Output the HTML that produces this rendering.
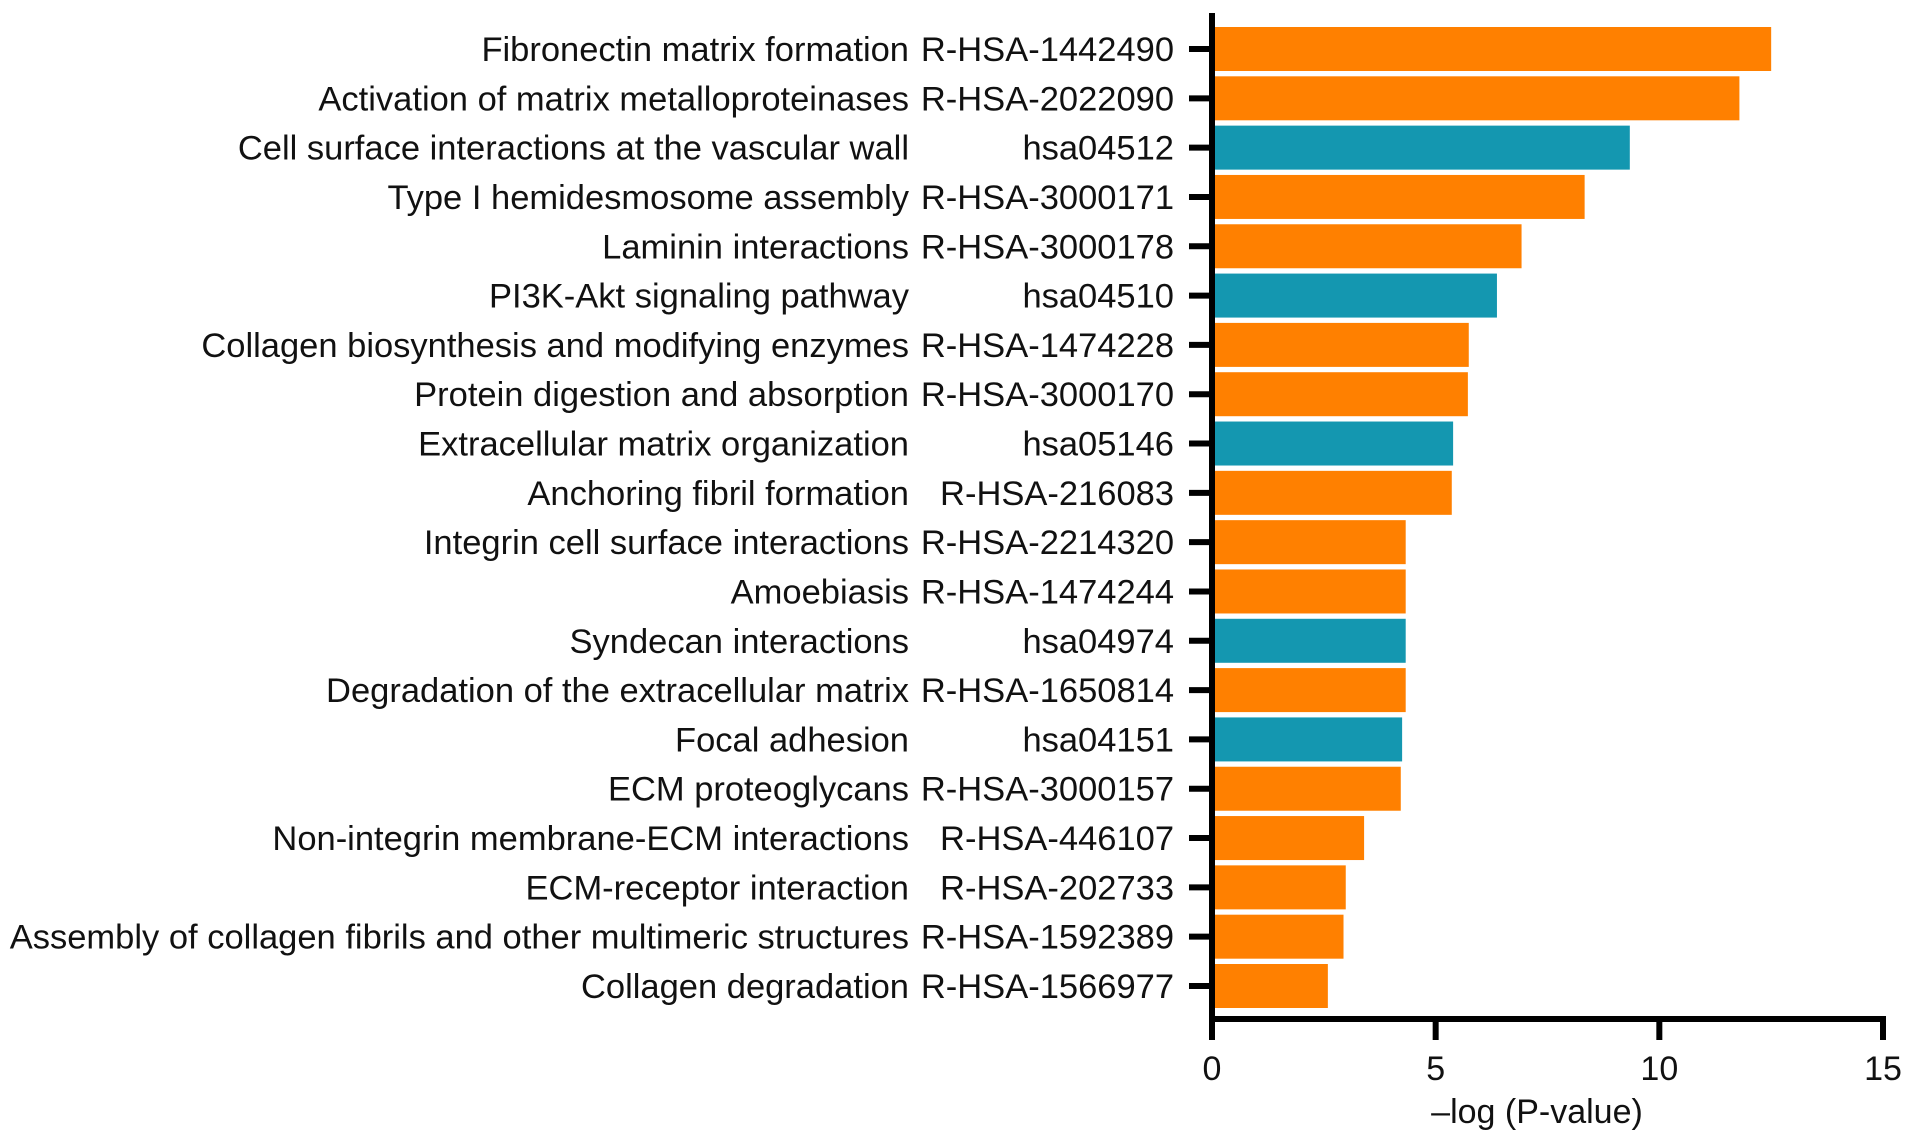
<!DOCTYPE html>
<html><head><meta charset="utf-8"><style>
html,body{margin:0;padding:0;background:#fff;}
svg text{font-family:"Liberation Sans",Arial,sans-serif;fill:#111;}
</style></head><body>
<svg id="chart" width="1913" height="1141" viewBox="0 0 1913 1141" xmlns="http://www.w3.org/2000/svg"></svg>
<script>
const names=["Fibronectin matrix formation","Activation of matrix metalloproteinases","Cell surface interactions at the vascular wall","Type I hemidesmosome assembly","Laminin interactions","PI3K-Akt signaling pathway","Collagen biosynthesis and modifying enzymes","Protein digestion and absorption","Extracellular matrix organization","Anchoring fibril formation","Integrin cell surface interactions","Amoebiasis","Syndecan interactions","Degradation of the extracellular matrix","Focal adhesion","ECM proteoglycans","Non-integrin membrane-ECM interactions","ECM-receptor interaction","Assembly of collagen fibrils and other multimeric structures","Collagen degradation"];
const ids=["R-HSA-1442490","R-HSA-2022090","hsa04512","R-HSA-3000171","R-HSA-3000178","hsa04510","R-HSA-1474228","R-HSA-3000170","hsa05146","R-HSA-216083","R-HSA-2214320","R-HSA-1474244","hsa04974","R-HSA-1650814","hsa04151","R-HSA-3000157","R-HSA-446107","R-HSA-202733","R-HSA-1592389","R-HSA-1566977"];
const values=[12.5,11.79,9.34,8.33,6.92,6.37,5.74,5.72,5.39,5.36,4.33,4.33,4.33,4.33,4.25,4.22,3.40,2.99,2.94,2.59];
const sources=["reactome","reactome","kegg","reactome","reactome","kegg","reactome","reactome","kegg","reactome","reactome","reactome","kegg","reactome","kegg","reactome","reactome","reactome","reactome","reactome"];
const xTicks=[0,5,10,15];

const svg=document.getElementById('chart');
const NS='http://www.w3.org/2000/svg';
const X0=1212,X1=1883,XMAX=15;
const x=v=>X0+(X1-X0)*v/XMAX;
const Y0=49,STEP=(986-49)/19;
const y=i=>Y0+i*STEP;
const BH=44;
function mk(t,a,p){const e=document.createElementNS(NS,t);for(const k in a)e.setAttribute(k,a[k]);(p||svg).appendChild(e);return e;}

values.forEach((v,i)=>{
  const r=mk('rect',{x:x(0),y:y(i)-BH/2,width:x(v)-x(0),height:BH,fill:sources[i]==='kegg'?'#1497B0':'#FF8000'});
  
  
  const tk=mk('line',{x1:x(0)-23,x2:x(0),y1:y(i),y2:y(i),stroke:'#000','stroke-width':6});
  
  
  const n=mk('text',{x:909,y:y(i)+12,'text-anchor':'end','font-size':34.5});
  n.textContent=names[i];
  
  
  const d=mk('text',{x:1174,y:y(i)+12,'text-anchor':'end','font-size':34.5});
  d.textContent=ids[i];
  
  
});
const ya=mk('line',{x1:x(0),x2:x(0),y1:13,y2:1022,stroke:'#000','stroke-width':6});


const xa=mk('line',{x1:x(0)-3,x2:X1+3,y1:1019,y2:1019,stroke:'#000','stroke-width':6});


xTicks.forEach(t=>{
  const l=mk('line',{x1:x(t),x2:x(t),y1:1019,y2:1040,stroke:'#000','stroke-width':6});
  
  
  const tx=mk('text',{x:x(t),y:1080,'text-anchor':'middle','font-size':34});
  tx.textContent=t;
  
  
});
const tt=mk('text',{x:1537,y:1123,'text-anchor':'middle','font-size':34});
tt.textContent='\u2013log (P-value)';


</script>
</body></html>
